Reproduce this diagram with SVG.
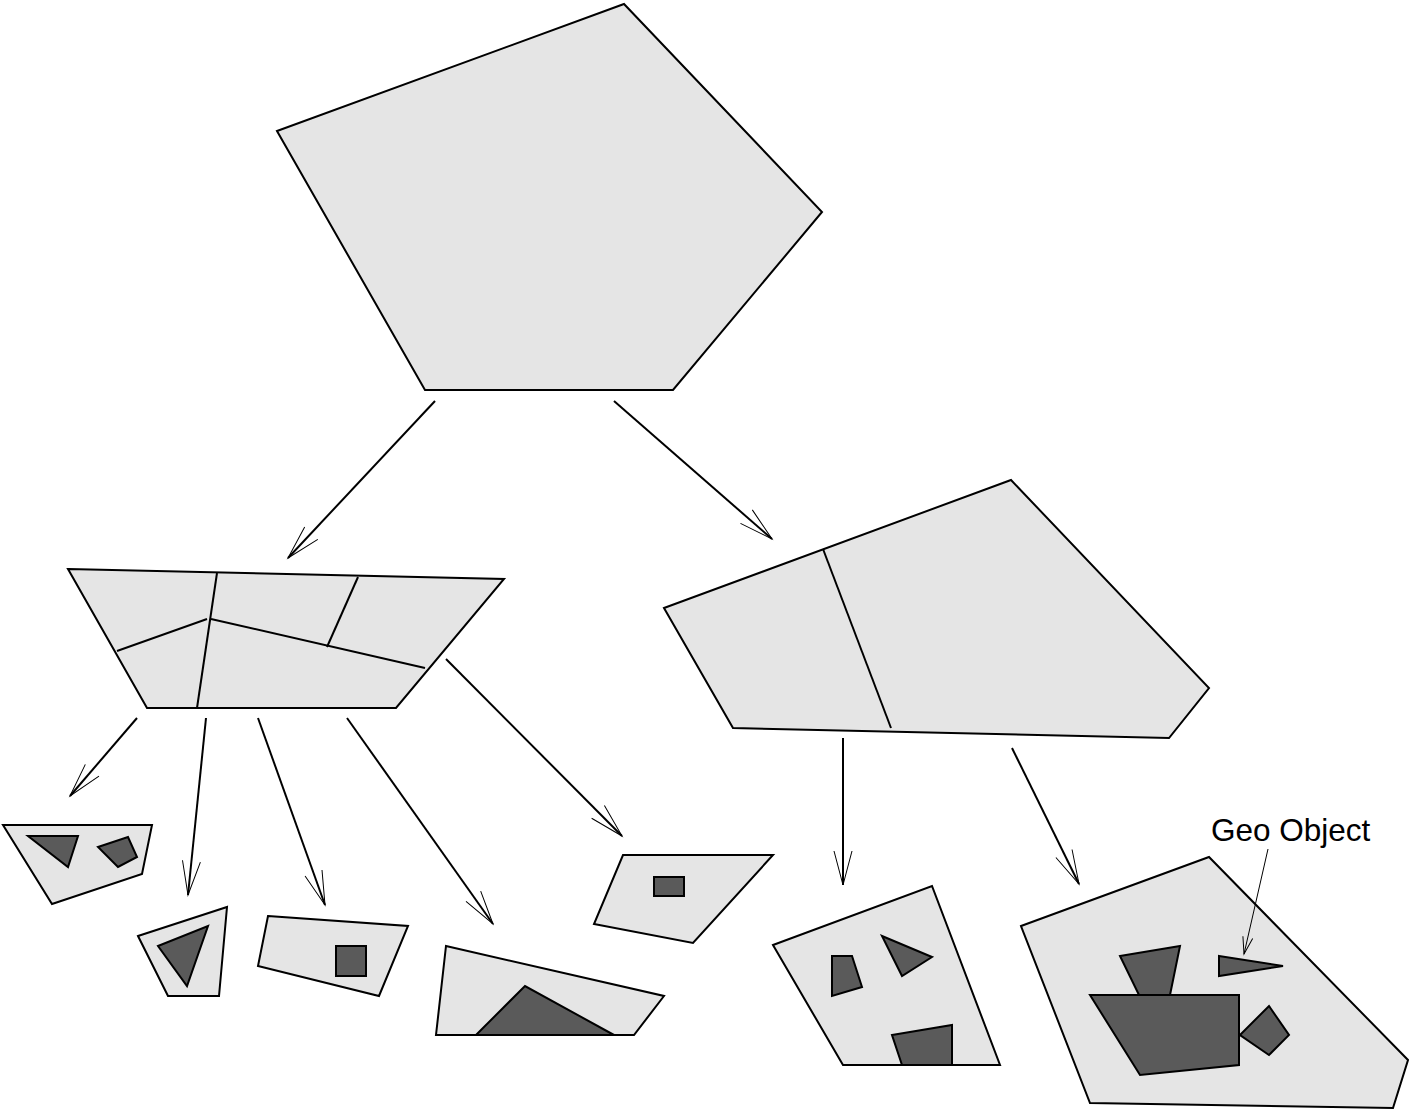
<svg xmlns="http://www.w3.org/2000/svg" width="1409" height="1115" viewBox="0 0 1409 1115">
<style>
.node{fill:#e5e5e5;stroke:#000;stroke-width:2;stroke-linejoin:miter}
.obj{fill:#5a5a5a;stroke:#000;stroke-width:2}
.div{fill:none;stroke:#000;stroke-width:2}
.edge{fill:none;stroke:#000;stroke-width:2;marker-end:url(#ah)}
.lead{fill:none;stroke:#000;stroke-width:1;marker-end:url(#ahs)}
.lbl{font-family:"Liberation Sans",Arial,sans-serif;font-size:31.5px;fill:#000}
</style>
<defs>
<marker id="ah" markerUnits="userSpaceOnUse" viewBox="-40 -14 44 28" refX="0" refY="0" markerWidth="44" markerHeight="28" orient="auto" overflow="visible">
<path d="M-34,-9 L0,0 L-34,9" fill="none" stroke="#000" stroke-width="1"/>
</marker>
<marker id="ahs" markerUnits="userSpaceOnUse" viewBox="-20 -8 24 16" refX="0" refY="0" markerWidth="24" markerHeight="16" orient="auto" overflow="visible">
<path d="M-17,-5 L0,0 L-17,5" fill="none" stroke="#000" stroke-width="1"/>
</marker>
</defs>
<rect width="1409" height="1115" fill="#fff"/>
<g id="connectors">
<line class="edge" x1="435" y1="401" x2="288" y2="558"/>
<line class="edge" x1="614" y1="401" x2="772" y2="539"/>
<line class="edge" x1="137" y1="718" x2="70" y2="796"/>
<line class="edge" x1="206" y1="718" x2="188" y2="895"/>
<line class="edge" x1="258" y1="718" x2="325" y2="905"/>
<line class="edge" x1="347" y1="718" x2="493" y2="924"/>
<line class="edge" x1="446" y1="659" x2="622" y2="836"/>
<line class="edge" x1="843" y1="738" x2="843" y2="885"/>
<line class="edge" x1="1012" y1="748" x2="1079" y2="884"/>
</g>
<g id="root">
<polygon class="node" points="277,131 624,4 822,212 673,390 425,390"/>
</g>
<g id="left">
<polygon class="node" points="68,569 504,579 396,708 147,708"/>
<polyline class="div" points="217,573 197,708"/>
<polyline class="div" points="117,651 207,619"/>
<polyline class="div" points="211,619 425,668"/>
<polyline class="div" points="358,577 327,647"/>
</g>
<g id="right">
<polygon class="node" points="664,608 1011,480 1209,688 1169,738 733,728"/>
<polyline class="div" points="823,549 891,728"/>
</g>
<g id="leaf1">
<polygon class="node" points="3,825 152,825 142,874 52,904"/>
<polygon class="obj" points="28,836 78,836 68,867"/>
<polygon class="obj" points="98,847 128,837 137,857 118,867"/>
</g>
<g id="leaf2">
<polygon class="node" points="138,936 227,907 219,996 168,996"/>
<polygon class="obj" points="158,946 208,926 187,986"/>
</g>
<g id="leaf3">
<polygon class="node" points="268,916 408,926 379,996 258,966"/>
<rect class="obj" x="336" y="946" width="30" height="30"/>
</g>
<g id="leaf4">
<polygon class="node" points="446,946 664,996 634,1035 436,1035"/>
<polygon class="obj" points="476,1035 525,986 614,1035"/>
</g>
<g id="leaf5">
<polygon class="node" points="623,855 773,855 693,943 594,924"/>
<rect class="obj" x="654" y="877" width="30" height="19"/>
</g>
<g id="leaf6">
<polygon class="node" points="773,945 932,886 1000,1065 843,1065"/>
<polygon class="obj" points="832,956 852,956 862,987 832,996"/>
<polygon class="obj" points="882,936 932,957 902,976"/>
<polygon class="obj" points="892,1035 952,1025 952,1065 902,1065"/>
</g>
<g id="leaf7">
<polygon class="node" points="1021,926 1209,857 1408,1060 1393,1108 1090,1103"/>
<polygon class="obj" points="1120,956 1180,946 1170,995 1139,995"/>
<polygon class="obj" points="1090,995 1239,995 1239,1065 1140,1075"/>
<polygon class="obj" points="1219,956 1283,966 1219,976"/>
<polygon class="obj" points="1240,1035 1269,1006 1289,1035 1269,1055"/>
</g>
<g id="label">
<text class="lbl" x="1211" y="841">Geo Object</text>
<line class="lead" x1="1268" y1="849" x2="1244" y2="954"/>
</g>
</svg>
